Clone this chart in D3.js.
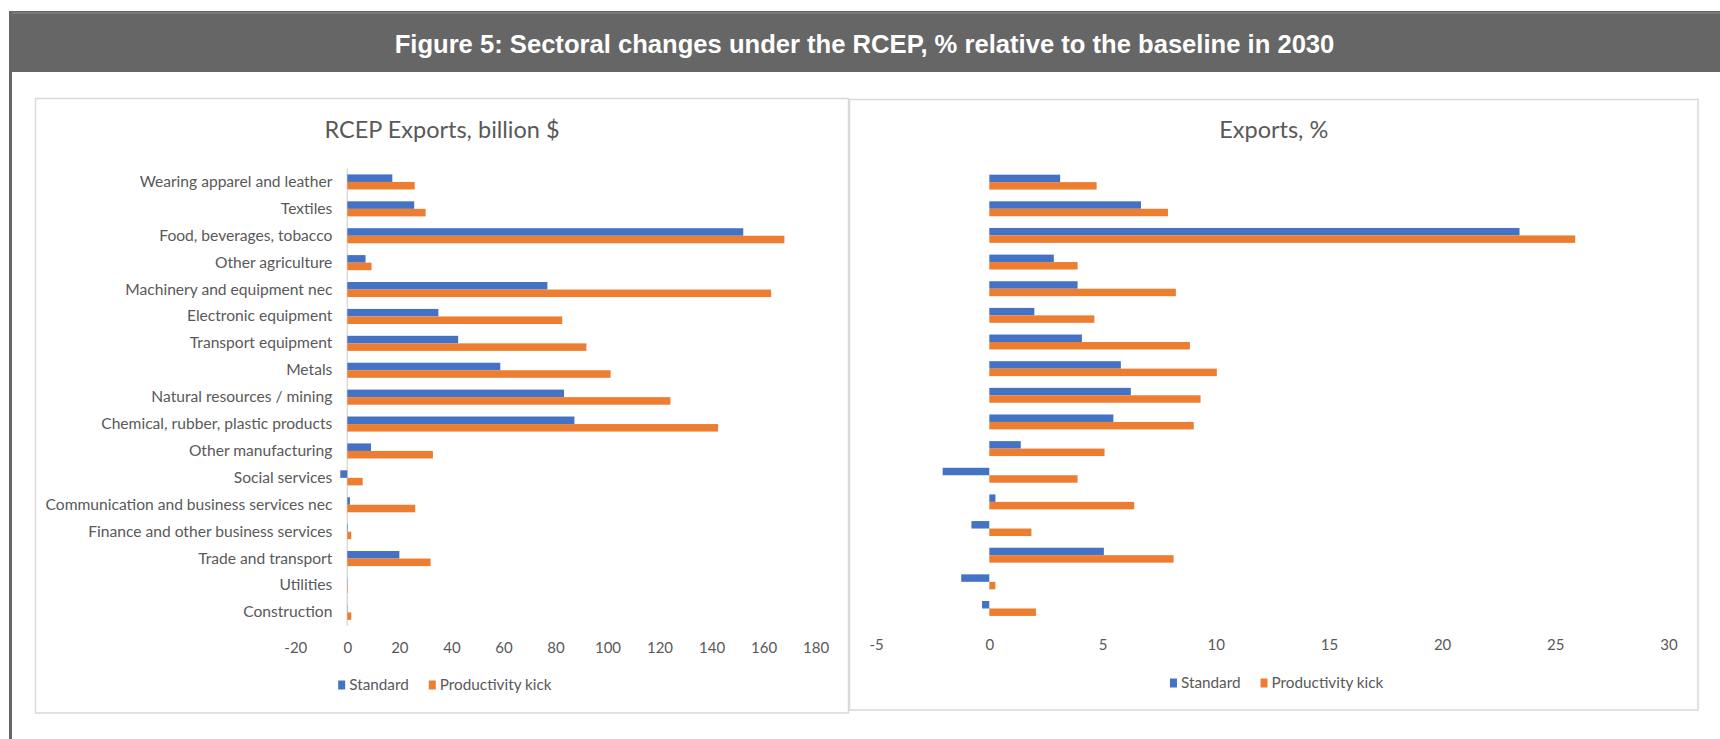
<!DOCTYPE html>
<html>
<head>
<meta charset="utf-8">
<script src="https://cdn.jsdelivr.net/npm/d3@7"></script>
<style>
	body { margin: 0; background: #fff; }
	svg { display: block; }
	.chart text { font-family: Lato, 'Open Sans', sans-serif; fill: #595959; }
</style>
</head>
<body>
<svg id="figure"></svg>
<script>
const categories = [
	'Wearing apparel and leather',
	'Textiles',
	'Food, beverages, tobacco',
	'Other agriculture',
	'Machinery and equipment nec',
	'Electronic equipment',
	'Transport equipment',
	'Metals',
	'Natural resources / mining',
	'Chemical, rubber, plastic products',
	'Other manufacturing',
	'Social services',
	'Communication and business services nec',
	'Finance and other business services',
	'Trade and transport',
	'Utilities',
	'Construction'
];
const seriesNames = ['Standard', 'Productivity kick'];

// RCEP exports, billion $
const exportsStandard = [17.3, 25.7, 152.2, 7.0, 76.9, 35.0, 42.6, 58.8, 83.3, 87.3, 9.1, -2.7, 1.0, 0.2, 20.0, 0.1, 0.1];
const exportsKick = [25.9, 30.1, 168.0, 9.3, 162.9, 82.6, 91.9, 101.2, 124.2, 142.5, 32.9, 5.9, 26.1, 1.5, 32.0, 0.2, 1.5];

// Exports, %
const pctStandard = [3.13, 6.70, 23.42, 2.85, 3.90, 1.99, 4.09, 5.81, 6.25, 5.48, 1.39, -2.06, 0.27, -0.79, 5.06, -1.24, -0.32];
const pctKick = [4.74, 7.89, 25.88, 3.90, 8.24, 4.64, 8.86, 10.05, 9.33, 9.03, 5.09, 3.90, 6.40, 1.86, 8.14, 0.27, 2.06];

const exportsTicks = [-20, 0, 20, 40, 60, 80, 100, 120, 140, 160, 180];
const pctTicks = [-5, 0, 5, 10, 15, 20, 25, 30];

const colors = { standard: '#4472C4', kick: '#ED7D31', text: '#595959', border: '#d9d9d9' };

const svg = d3.select('#figure')
	.attr('width', 1720)
	.attr('height', 739);

// grey figure header and frame
svg.append('rect')
	.attr('x', 9).attr('y', 11).attr('width', 1711).attr('height', 61)
	.attr('fill', '#666666');
svg.append('line')
	.attr('x1', 12).attr('x2', 1720).attr('y1', 13).attr('y2', 13)
	.attr('stroke', '#8c8c8c').attr('stroke-width', 1);
svg.append('rect')
	.attr('x', 9).attr('y', 11).attr('width', 3).attr('height', 728)
	.attr('fill', '#666666');
svg.append('text')
	.attr('x', 864.5).attr('y', 53)
	.attr('text-anchor', 'middle')
	.attr('font-family', "'Liberation Sans', Arial, sans-serif")
	.attr('font-weight', 'bold')
	.attr('font-size', 25.6)
	.attr('fill', '#fff')
	.text('Figure 5: Sectoral changes under the RCEP, % relative to the baseline in 2030');

const drawPanel = (opts) => {
	const g = svg.append('g').attr('class', 'chart');

	g.append('rect')
		.attr('x', opts.box[0]).attr('y', opts.box[1])
		.attr('width', opts.box[2]).attr('height', opts.box[3])
		.attr('fill', '#fff')
		.attr('stroke', colors.border)
		.attr('stroke-width', 1.5);

	const cx = opts.box[0] + opts.box[2] / 2;

	g.append('text')
		.attr('x', cx).attr('y', 130)
		.attr('dy', '0.35em')
		.attr('text-anchor', 'middle')
		.attr('font-size', 23.5)
		.text(opts.title);

	const x = d3.scaleLinear()
		.domain(d3.extent(opts.ticks)).range(opts.xRange);
	const y = d3.scaleBand()
		.domain(categories).range(opts.yRange)
		.paddingInner(0.44).paddingOuter(0.22);
	const ySub = d3.scaleBand()
		.domain(seriesNames).range([0, y.bandwidth()]);

	if (opts.zeroLine) {
		g.append('line')
			.attr('x1', x(0)).attr('x2', x(0))
			.attr('y1', opts.yRange[0]).attr('y2', opts.yRange[1])
			.attr('stroke', colors.border).attr('stroke-width', 1.5);
	}

	const rows = categories.map((c, i) => {
		return [
			{ cat: c, key: seriesNames[0], v: opts.values[0][i], color: colors.standard },
			{ cat: c, key: seriesNames[1], v: opts.values[1][i], color: colors.kick }
		];
	}).flat();

	g.append('g').selectAll('rect').data(rows)
		.enter()
		.append('rect')
			.attr('x', d => { return Math.min(x(0), x(d.v)); })
			.attr('width', d => { return Math.abs(x(d.v) - x(0)); })
			.attr('y', d => { return y(d.cat) + ySub(d.key); })
			.attr('height', ySub.bandwidth())
			.attr('fill', d => { return d.color; });

	if (opts.showLabels) {
		const yAxis = g.append('g')
			.attr('transform', `translate(${x(0)},0)`)
			.call(d3.axisLeft(y).tickSize(0).tickPadding(15));
		yAxis.select('.domain').remove();
		yAxis.selectAll('text')
			.attr('font-size', 15.6)
			.attr('fill', colors.text);
	}

	const xAxis = g.append('g')
		.attr('transform', `translate(0,${opts.tickY})`)
		.call(d3.axisBottom(x).tickValues(opts.ticks).tickSize(0).tickFormat(d => { return String(d); }));
	xAxis.select('.domain').remove();
	xAxis.selectAll('text')
		.attr('y', 0).attr('dy', '0.35em')
		.attr('font-size', 15)
		.attr('fill', colors.text);

	// legend, centred under the panel
	const legend = g.append('g');
	const items = legend.selectAll('g').data([
		{ name: seriesNames[0], color: colors.standard },
		{ name: seriesNames[1], color: colors.kick }
	]).enter().append('g');
	items.append('rect')
		.attr('width', 7).attr('height', 9)
		.attr('y', -4.5)
		.attr('fill', d => { return d.color; });
	items.append('text')
		.attr('x', 11).attr('dy', '0.35em')
		.attr('font-size', 15.3)
		.text(d => { return d.name; });
	let offset = 0;
	items.each(function () {
		d3.select(this).attr('transform', `translate(${offset},0)`);
		offset += this.getBBox().width + 20;
	});
	const legendWidth = offset - 20;
	legend.attr('transform', `translate(${cx + 3 - legendWidth / 2},${opts.legendY})`);
};

drawPanel({
	box: [35.5, 98.5, 813, 614.5],
	title: 'RCEP Exports, billion $',
	ticks: exportsTicks,
	xRange: [295.3, 815.6],
	yRange: [168.5, 625.8],
	values: [exportsStandard, exportsKick],
	showLabels: true,
	zeroLine: true,
	tickY: 648,
	legendY: 685
});

drawPanel({
	box: [849.5, 99.5, 848.5, 610.5],
	title: 'Exports, %',
	ticks: pctTicks,
	xRange: [876.1, 1668.5],
	yRange: [168.8, 621.8],
	values: [pctStandard, pctKick],
	showLabels: false,
	zeroLine: false,
	tickY: 645,
	legendY: 683
});
</script>
</body>
</html>
